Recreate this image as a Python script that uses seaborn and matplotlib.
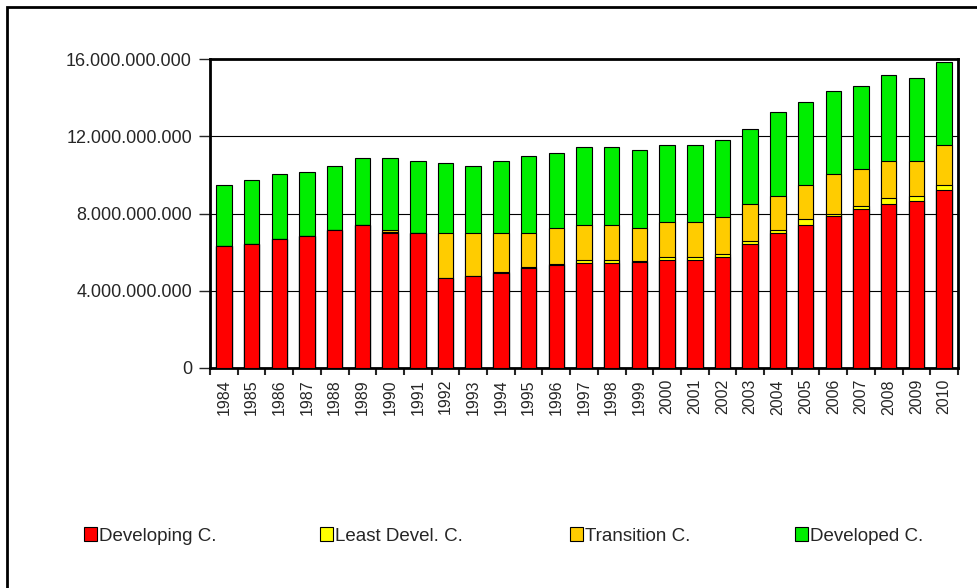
import numpy as np
import pandas as pd
import matplotlib
matplotlib.use('Agg')
import matplotlib.pyplot as plt
from matplotlib.patches import Patch, Rectangle
from matplotlib.ticker import FuncFormatter, FixedLocator
import seaborn as sns

years = [str(y) for y in range(1984, 2011)]
# valores en miles de millones
developing = [6.30, 6.44, 6.70, 6.86, 7.13, 7.43, 7.01, 6.99, 4.65, 4.78, 4.92, 5.20, 5.34, 5.46,
              5.46, 5.47, 5.61, 5.61, 5.73, 6.44, 6.99, 7.43, 7.86, 8.24, 8.51, 8.65, 9.21]
least_devel = [0, 0, 0, 0, 0, 0, 0.05, 0, 0, 0, 0.03, 0.03, 0.03, 0.15,
               0.15, 0.05, 0.16, 0.16, 0.16, 0.16, 0.18, 0.26, 0.14, 0.17, 0.30, 0.28, 0.27]
transition = [0, 0, 0, 0, 0, 0, 0.06, 0, 2.34, 2.21, 2.04, 1.76, 1.90, 1.82,
              1.82, 1.75, 1.78, 1.78, 1.95, 1.91, 1.76, 1.79, 2.03, 1.92, 1.93, 1.81, 2.06]
developed = [3.18, 3.32, 3.35, 3.31, 3.34, 3.43, 3.74, 3.75, 3.60, 3.46, 3.75, 4.01, 3.87, 3.99,
             3.99, 4.03, 4.00, 4.00, 3.99, 3.87, 4.30, 4.29, 4.29, 4.28, 4.41, 4.27, 4.30]

series = ['Developing C.', 'Least Devel. C.', 'Transition C.', 'Developed C.']
colors = ['#ff0000', '#ffff00', '#ffcc00', '#00ee00']

df = pd.DataFrame({'year': years,
                   'Developing C.': np.array(developing) * 1e9,
                   'Least Devel. C.': np.array(least_devel) * 1e9,
                   'Transition C.': np.array(transition) * 1e9,
                   'Developed C.': np.array(developed) * 1e9})
cum = df[series].cumsum(axis=1)

sns.set_style('white')
plt.rcParams['font.family'] = ['Liberation Sans', 'DejaVu Sans']

fig = plt.figure(figsize=(9.78, 5.88), dpi=100)
ax = fig.add_axes([210 / 978, 1 - 368 / 588, 748 / 978, 309 / 588])

# barras apiladas: de la mas alta a la mas baja
for s, c in reversed(list(zip(series, colors))):
    sns.barplot(x=df['year'], y=cum[s], color=c, width=0.56, edgecolor='black',
                linewidth=0.8, saturation=1, ax=ax, zorder=3)

ax.set_ylim(0, 16e9)
ax.set_xlim(-0.5, len(years) - 0.5)
ax.set_yticks([0, 4e9, 8e9, 12e9, 16e9])
ax.yaxis.set_major_formatter(FuncFormatter(lambda v, p: f'{v:,.0f}'.replace(',', '.')))
ax.yaxis.grid(True, color='black', linewidth=0.8)
ax.set_axisbelow(True)
ax.set_xlabel('')
ax.set_ylabel('')
for sp in ax.spines.values():
    sp.set_linewidth(2)
    sp.set_color('black')
ax.tick_params(axis='y', left=True, length=8, width=1, labelsize=13, pad=5)
ax.tick_params(axis='x', which='major', length=0, labelsize=11.5, rotation=90, pad=8)
ax.xaxis.set_minor_locator(FixedLocator(np.arange(-0.5, len(years), 1)))
ax.tick_params(axis='x', which='minor', bottom=True, length=5, width=1.5)

# marco exterior
fig.patches.append(Rectangle((7 / 978, -0.1), 1.2, 1 - 7 / 588 + 0.1, transform=fig.transFigure,
                             fill=False, edgecolor='black', linewidth=2))

# leyenda: una entrada por posicion
legend_x = [84, 320, 570, 795]
for s, c, lx in zip(series, colors, legend_x):
    leg = fig.legend([Patch(facecolor=c, edgecolor='black', linewidth=0.8)], [s],
                     loc='center left', bbox_to_anchor=(lx / 978, 1 - 536 / 588),
                     frameon=False, fontsize=13.5, handlelength=0.7, handleheight=0.7,
                     handletextpad=0.1, borderpad=0, borderaxespad=0)

fig.savefig('out.png', dpi=100)
